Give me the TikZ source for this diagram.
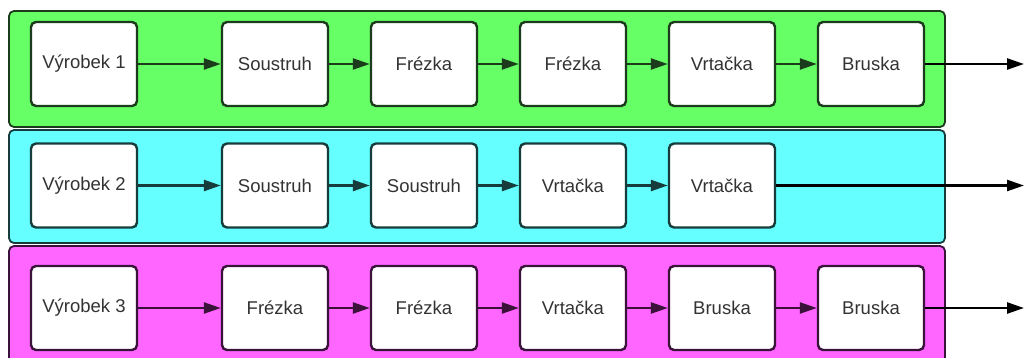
\documentclass[tikz,border=0pt]{standalone}
\usepackage{fontspec}
\setmainfont{Liberation Sans}
\usetikzlibrary{arrows.meta}
\definecolor{bandgreen}{HTML}{66FF66}
\definecolor{bandcyan}{HTML}{66FFFF}
\definecolor{bandmagenta}{HTML}{FF66FF}
\definecolor{edgegreen}{HTML}{1C3A1C}
\definecolor{edgecyan}{HTML}{163C3C}
\definecolor{edgemagenta}{HTML}{3A123A}
\definecolor{txt}{HTML}{333333}
\tikzset{
  band/.style={rounded corners=5pt, line width=1.8pt},
  machine/.style={draw, fill=white, rounded corners=5pt, line width=2.4pt,
    minimum width=106pt, minimum height=84pt, inner sep=0pt,
    font=\fontsize{18.5}{21}\selectfont, text=txt},
  flow/.style={line width=2.4pt, -{Triangle[length=17pt,width=11pt]}},
}
\begin{document}
\begin{tikzpicture}[x=1pt,y=-1pt]
\useasboundingbox (0,0) rectangle (1025,357);
\fill[white] (0,0) rectangle (1025,357);

% product lanes
\draw[band, fill=bandgreen, draw=edgegreen] (9,11) rectangle (945,127);
\draw[band, fill=bandcyan, draw=edgecyan] (9,130) rectangle (945,243);
\draw[band, fill=bandmagenta, draw=edgemagenta] (9,246) rectangle (945,370);

% lane 1
\begin{scope}[every node/.style={machine, draw=edgegreen}]
\node (a0) at (84,64) {Výrobek 1};
\node (a1) at (275,64) {Soustruh};
\node (a2) at (424,64) {Frézka};
\node (a3) at (573,64) {Frézka};
\node (a4) at (722,64) {Vrtačka};
\node (a5) at (871,64) {Bruska};
\end{scope}
\coordinate (ae) at (1024,64);

% lane 2
\begin{scope}[every node/.style={machine, draw=edgecyan}]
\node (b0) at (84,185.5) {Výrobek 2};
\node (b1) at (275,185.5) {Soustruh};
\node (b2) at (424,185.5) {Soustruh};
\node (b3) at (573,185.5) {Vrtačka};
\node (b4) at (722,185.5) {Vrtačka};
\end{scope}
\coordinate (be) at (1024,185.5);

% lane 3
\begin{scope}[every node/.style={machine, draw=edgemagenta}]
\node (c0) at (84,308) {Výrobek 3};
\node (c1) at (275,308) {Frézka};
\node (c2) at (424,308) {Frézka};
\node (c3) at (573,308) {Vrtačka};
\node (c4) at (722,308) {Bruska};
\node (c5) at (871,308) {Bruska};
\end{scope}
\coordinate (ce) at (1024,308);

% connectors
\draw[flow, edgegreen] (a0) -- (a1);
\draw[flow, edgegreen] (a1) -- (a2);
\draw[flow, edgegreen] (a2) -- (a3);
\draw[flow, edgegreen] (a3) -- (a4);
\draw[flow, edgegreen] (a4) -- (a5);
\draw[flow, black] (a5) -- (ae);

\draw[flow, edgecyan] (b0) -- (b1);
\draw[flow, edgecyan] (b1) -- (b2);
\draw[flow, edgecyan] (b2) -- (b3);
\draw[flow, edgecyan] (b3) -- (b4);
\draw[flow, black] (b4) -- (be);

\draw[flow, edgemagenta] (c0) -- (c1);
\draw[flow, edgemagenta] (c1) -- (c2);
\draw[flow, edgemagenta] (c2) -- (c3);
\draw[flow, edgemagenta] (c3) -- (c4);
\draw[flow, edgemagenta] (c4) -- (c5);
\draw[flow, black] (c5) -- (ce);
\end{tikzpicture}
\end{document}
